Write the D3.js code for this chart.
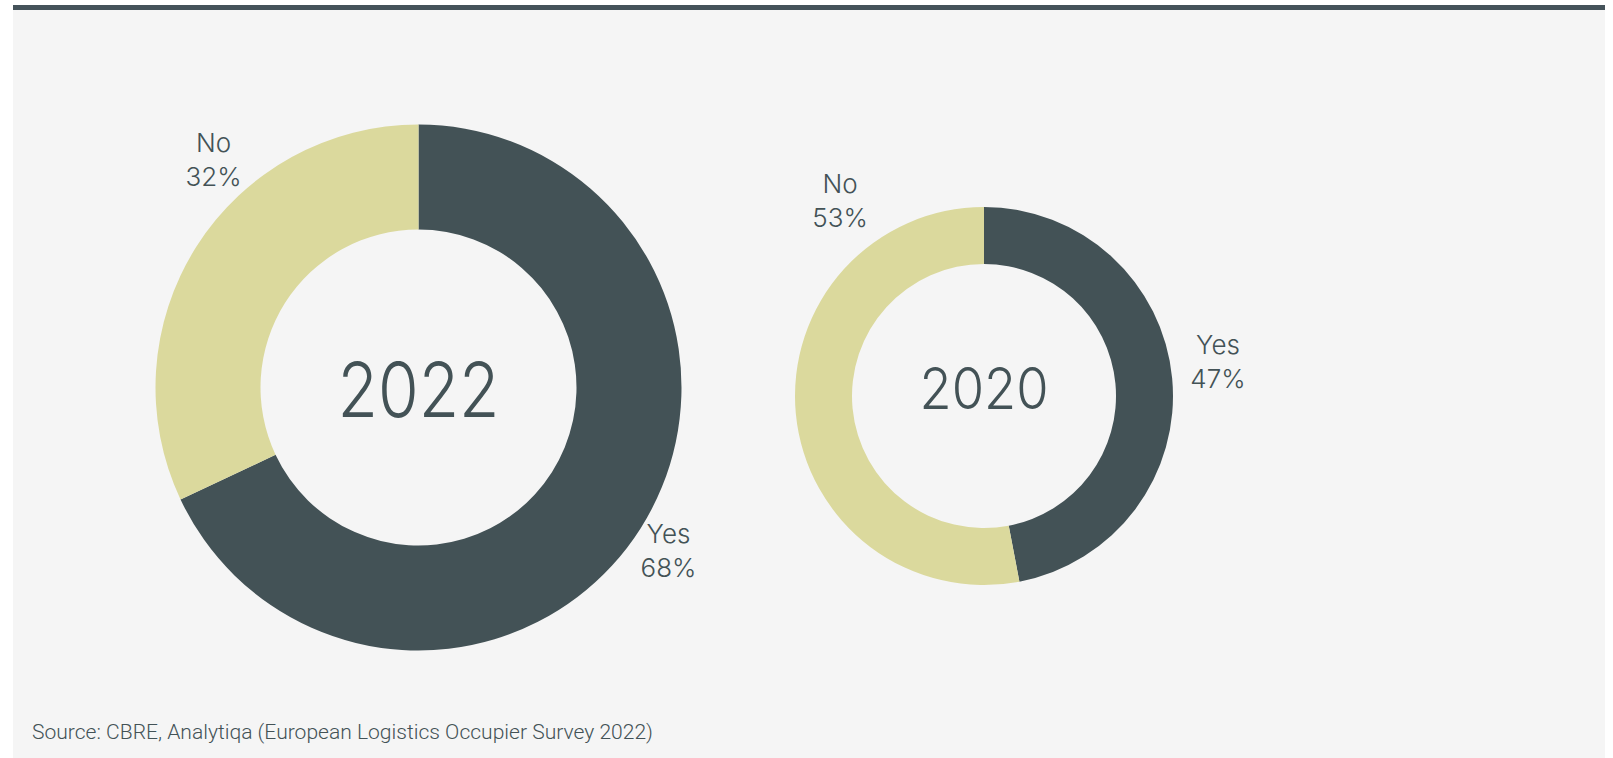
<!DOCTYPE html>
<html>
<head>
<meta charset="utf-8">
<script src="https://cdn.jsdelivr.net/npm/d3@7"></script>
<style>
  html, body { margin: 0; padding: 0; background: #ffffff; }
  svg { display: block; }
</style>
</head>
<body>
<svg id="chart" width="1613" height="758"></svg>
<script>
// Survey answers: share of occupiers answering Yes / No
const categories = ["Yes", "No"];
const years = ["2022", "2020"];
const values2022 = [68, 32];
const values2020 = [47, 53];
const sourceNote = "Source: CBRE, Analytiqa (European Logistics Occupier Survey 2022)";

const colors = { Yes: "#435256", No: "#dbd99d" };
const textColor = "#435256";

const svg = d3.select("#chart");

// panel background and top rule
svg.append("rect").attr("x", 13).attr("y", 5).attr("width", 1592).attr("height", 753).attr("fill", "#f5f5f5");
svg.append("rect").attr("x", 13).attr("y", 5).attr("width", 1592).attr("height", 5).attr("fill", "#45535a");

// layout of each donut; label offsets are relative to the donut centre
const layout = [
  { year: years[0], values: values2022, cx: 418.5, cy: 387.5, outer: 263, inner: 158,
    yearSize: 76, yearDy: 29, yearWidth: 162,
    labels: { No: [-205, -236], Yes: [250, 155] } },
  { year: years[1], values: values2020, cx: 984, cy: 396, outer: 189, inner: 132,
    yearSize: 58, yearDy: 13, yearWidth: 129,
    labels: { No: [-144, -203], Yes: [234, -42] } }
];

const pie = d3.pie().sort(null).value(d => d.value);

layout.forEach(cfg => {
  const data = categories.map((c, i) => ({ cat: c, value: cfg.values[i] }));
  const arcs = pie(data);
  const arc = d3.arc().innerRadius(cfg.inner).outerRadius(cfg.outer);
  const g = svg.append("g").attr("transform", `translate(${cfg.cx},${cfg.cy})`);

  g.selectAll("path.slice")
    .data(arcs)
    .join("path")
    .attr("class", "slice")
    .attr("d", arc)
    .attr("fill", d => colors[d.data.cat]);

  g.append("text")
    .attr("x", -cfg.yearWidth / 2)
    .attr("y", cfg.yearDy)
    .attr("textLength", cfg.yearWidth)
    .attr("lengthAdjust", "spacingAndGlyphs")
    .attr("font-family", "Inter, Lato, sans-serif")
    .attr("font-weight", 300)
    .attr("font-size", cfg.yearSize)
    .attr("fill", textColor)
    .text(cfg.year);

  arcs.forEach(a => {
    const [dx, dy] = cfg.labels[a.data.cat];
    const t = g.append("text")
      .attr("text-anchor", "middle")
      .attr("font-family", "Inter, Lato, sans-serif")
      .attr("font-weight", 300)
      .attr("font-size", 26)
      .attr("fill", textColor);
    t.append("tspan").attr("x", dx).attr("y", dy).text(a.data.cat);
    t.append("tspan").attr("x", dx).attr("y", dy + 34).text(d3.format("d")(a.data.value) + "%");
  });
});

svg.append("text")
  .attr("x", 32)
  .attr("y", 739)
  .attr("textLength", 621)
  .attr("lengthAdjust", "spacingAndGlyphs")
  .attr("font-family", "Roboto, sans-serif")
  .attr("font-weight", 300)
  .attr("font-size", 20)
  .attr("fill", textColor)
  .text(sourceNote);
</script>
</body>
</html>
